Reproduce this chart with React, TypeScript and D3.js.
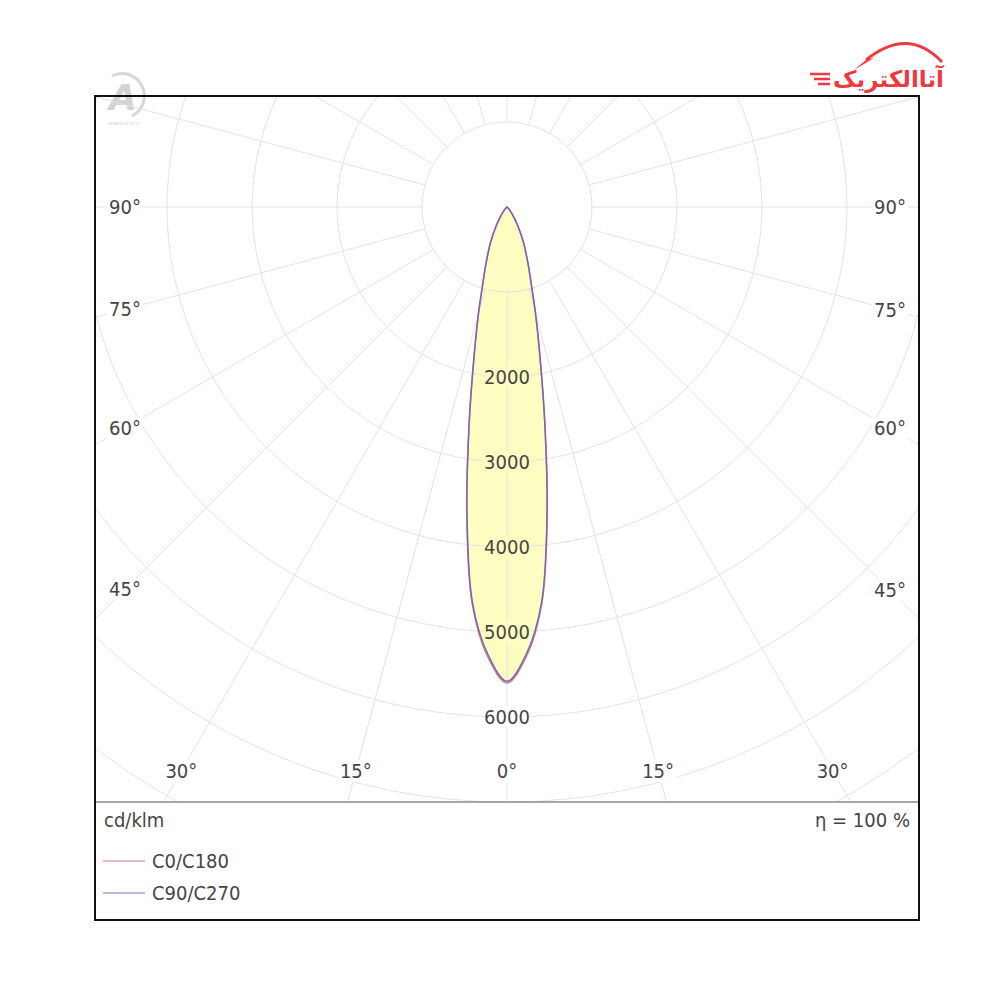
import React from 'react'
import * as d3 from 'd3'

// polar angles (deg from nadir) and intensities (cd/klm)
const angles = [0, 2.5, 5, 7.5, 10, 12.5, 15, 17.5, 20, 25, 30, 35, 40, 45, 50, 60, 70, 80, 90]
const c0c180 = [5600, 5290, 4690, 3630, 2560, 1790, 1300, 950, 740, 460, 250, 120, 55, 22, 8, 0, 0, 0, 0]
const c90c270 = [5580, 5260, 4670, 3610, 2550, 1780, 1295, 945, 735, 455, 248, 118, 53, 21, 7, 0, 0, 0, 0]

const ringValues = [1000, 2000, 3000, 4000, 5000, 6000, 7000, 8000, 9000]
const ringLabels = [2000, 3000, 4000, 5000, 6000]
const spokeAngles = d3.range(0, 360, 15)
const bottomLabels = [-30, -15, 0, 15, 30]
const sideLabels = [45, 60, 75, 90]

const series = [
  { name: 'C0/C180', values: c0c180, color: '#d9848f', legend: '#e3a3aa' },
  { name: 'C90/C270', values: c90c270, color: '#7a64b4', legend: '#a4a2d8' },
]

const W = 1000
const box = { left: 95, top: 96, right: 919, bottom: 920, divider: 802 }
const cx = 507
const cy = 207
const font = "'DejaVu Sans Condensed', 'DejaVu Sans', sans-serif"
const textColor = '#454545'
const fillColor = '#fdfdc2'
const logoRed = '#ec3a40'

const r = d3.scaleLinear().domain([0, 1000]).range([0, 85])
const rad = (deg: number) => (deg * Math.PI) / 180

function outline(values: number[]) {
  // left half from 90° down to nadir, then right half back up to 90°
  const pts: [number, number][] = []
  for (let i = angles.length - 1; i > 0; i--) pts.push([Math.PI + rad(angles[i]), r(values[i])])
  for (let i = 0; i < angles.length; i++) pts.push([Math.PI - rad(angles[i]), r(values[i])])
  return d3.lineRadial<[number, number]>()
    .angle((d) => d[0])
    .radius((d) => d[1])
    .curve(d3.curveCatmullRom)(pts) + 'Z'
}

function Label({ x, y, text, bg = '#fff', size = 20 }: { x: number; y: number; text: string; bg?: string; size?: number }) {
  const w = text.length * size * 0.5 + 6
  return (
    <g>
      <rect x={x - w / 2} y={y - size * 0.55} width={w} height={size * 1.1} fill={bg} />
      <text x={x} y={y} textAnchor="middle" dominantBaseline="central" fontSize={size} fill={textColor} fontFamily={font}>
        {text}
      </text>
    </g>
  )
}

export default function App() {
  const labelRow = 771
  const sideX = [125, 890]
  return (
    <div style={{ position: 'absolute', left: 0, top: 0 }}>
      <svg width={W} height={W} viewBox={`0 0 ${W} ${W}`} style={{ display: 'block', background: '#fff' }}>
        <defs>
          <clipPath id="plot">
            <rect x={box.left} y={box.top} width={box.right - box.left} height={box.divider - box.top} />
          </clipPath>
        </defs>

        {/* watermark */}
        <g opacity={0.55}>
          <path d="M 112 76 A 22 22 0 1 1 132 116" fill="none" stroke="#b8b8b8" strokeWidth={3} />
          <text x={123} y={110} textAnchor="middle" fontSize={36} fontWeight="bold" fontStyle="italic" fill="#b0b0b0" fontFamily="'DejaVu Sans', sans-serif">A</text>
          <text x={124} y={125} textAnchor="middle" fontSize={5} fill="#aaa" fontFamily="'DejaVu Sans', sans-serif">ataelectric.ir</text>
        </g>

        {/* logo */}
        <g>
          <path d="M 866 60 Q 908 26 942 62" fill="none" stroke={logoRed} strokeWidth={3} />
          <path d="M 866 60 L 854 70 L 874 58 Z" fill={logoRed} />
          {[0, 1, 2].map((i) => (
            <line key={i} x1={810 + i * 4} y1={74 + i * 5} x2={830} y2={74 + i * 5} stroke={logoRed} strokeWidth={2.5} />
          ))}
          <text x={944} y={87} textAnchor="end" fontSize={23} fontWeight="bold" fill={logoRed} fontFamily="'DejaVu Sans', sans-serif">
            آتاالکتریک
          </text>
        </g>

        {/* light distribution fill */}
        <path d={outline(c90c270)} transform={`translate(${cx},${cy})`} fill={fillColor} />

        {/* polar grid */}
        <g clipPath="url(#plot)" stroke="#e3e3e3" strokeWidth={1} fill="none">
          {ringValues.map((v) => (
            <circle key={v} cx={cx} cy={cy} r={r(v)} />
          ))}
          {spokeAngles.map((a) => (
            <line
              key={a}
              x1={cx + r(1000) * Math.sin(rad(a))}
              y1={cy + r(1000) * Math.cos(rad(a))}
              x2={cx + r(10000) * Math.sin(rad(a))}
              y2={cy + r(10000) * Math.cos(rad(a))}
            />
          ))}
        </g>

        {/* curves */}
        {series.map((s) => (
          <path key={s.name} d={outline(s.values)} transform={`translate(${cx},${cy})`} fill="none" stroke={s.color} strokeWidth={1.5} />
        ))}

        {/* intensity labels */}
        {ringLabels.map((v) => (
          <Label key={v} x={cx} y={cy + r(v)} text={String(v)} bg={r(v) < r(c90c270[0]) ? fillColor : '#fff'} />
        ))}

        {/* angle labels */}
        {bottomLabels.map((a) => (
          <Label key={a} x={cx + (labelRow - cy) * Math.tan(rad(a))} y={labelRow} text={`${Math.abs(a)}°`} />
        ))}
        {sideLabels.map((a) =>
          sideX.map((x) => (
            <Label key={`${a}-${x}`} x={x} y={cy + Math.abs(cx - x) / Math.tan(rad(a))} text={`${a}°`} />
          ))
        )}

        {/* frame */}
        <line x1={box.left} x2={box.right} y1={box.divider} y2={box.divider} stroke="#8a8a8a" strokeWidth={1.5} />
        <rect x={box.left} y={box.top} width={box.right - box.left} height={box.bottom - box.top} fill="none" stroke="#111" strokeWidth={2} />

        {/* legend */}
        <text x={104} y={827} fontSize={20} fill={textColor} fontFamily={font}>cd/klm</text>
        <text x={910} y={827} textAnchor="end" fontSize={20} fill={textColor} fontFamily={font}>η = 100 %</text>
        {series.map((s, i) => (
          <g key={s.name} transform={`translate(0,${861 + i * 32})`}>
            <line x1={103} x2={145} y1={0} y2={0} stroke={s.legend} strokeWidth={1.5} />
            <text x={152} y={0} dominantBaseline="central" fontSize={20} fill={textColor} fontFamily={font}>{s.name}</text>
          </g>
        ))}
      </svg>
    </div>
  )
}
